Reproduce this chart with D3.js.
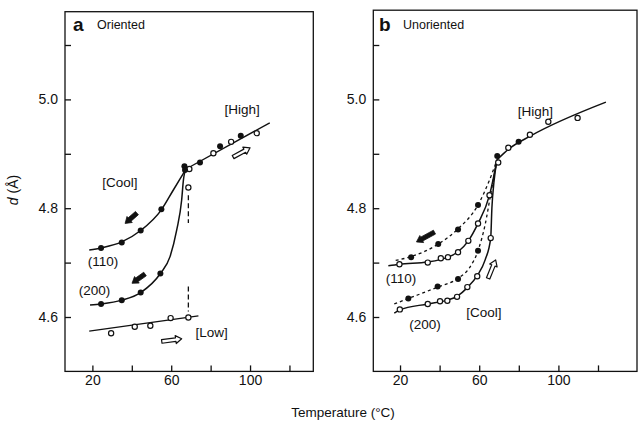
<!DOCTYPE html>
<html>
<head>
<meta charset="utf-8">
<script src="https://cdn.jsdelivr.net/npm/d3@7"></script>
<style>
  html, body { margin: 0; padding: 0; background: #fff; }
  svg { display: block; }
  text { font-family: "Liberation Sans", Arial, sans-serif; fill: #111; }
</style>
</head>
<body>
<svg id="chart" width="638" height="421"></svg>
<script>
// Axis ticks
const xTicks = [20, 40, 60, 80, 100, 120];
const xTickLabels = [20, 60, 100];
const yTicks = [4.6, 4.7, 4.8, 4.9, 5.0, 5.1];
const yTickLabels = [4.6, 4.8, 5.0];

// Panel a: oriented sample  [temperature °C, d spacing Å]
const aHighFilled = [[66.7, 4.877], [67.0, 4.870], [74.6, 4.884], [84.8, 4.914], [95.3, 4.933]];
const aHighOpen = [[69.2, 4.872], [81.4, 4.901], [90.4, 4.922], [103.4, 4.938]];
const aHighLine = [[68.0, 4.873], [110.0, 4.957]];
const a110Filled = [[24.4, 4.727], [34.9, 4.737], [44.5, 4.759], [55.0, 4.798]];
const a110Curve = [[18.4, 4.723], [24.4, 4.727], [34.9, 4.738], [44.5, 4.759], [55.0, 4.797], [61.0, 4.833], [67.5, 4.872]];
const a200Filled = [[24.4, 4.624], [34.9, 4.631], [44.5, 4.645], [54.5, 4.680]];
const a200Curve = [[18.8, 4.622], [24.4, 4.624], [34.9, 4.631], [44.5, 4.645], [54.5, 4.680], [59.4, 4.711], [62.8, 4.760], [65.3, 4.815], [66.2, 4.852], [67.5, 4.872]];
const aLowOpen = [[29.5, 4.570], [41.5, 4.582], [49.4, 4.584], [59.7, 4.598], [68.7, 4.599]];
const aLowLine = [[18.4, 4.574], [73.8, 4.602]];
const aMidOpen = [[68.7, 4.838]];
const aDrops = [[68.7, 4.824, 4.773], [68.7, 4.656, 4.610]];

// Panel b: unoriented sample
const bHighFilled = [[69.1, 4.896], [79.9, 4.922]];
const bHighOpen = [[69.6, 4.884], [74.7, 4.911], [85.6, 4.935], [94.9, 4.959], [109.7, 4.966]];
const bHighLine = [[69.0, 4.889], [75.0, 4.909], [86.0, 4.933], [124.0, 4.995]];
const b110Open = [[19.7, 4.697], [34.0, 4.700], [40.6, 4.708], [44.2, 4.710], [49.3, 4.719], [54.5, 4.740], [59.4, 4.772], [65.2, 4.824]];
const b110Solid = [[14.1, 4.694], [19.7, 4.697], [34.0, 4.701], [44.2, 4.710], [49.3, 4.720], [54.5, 4.740], [59.4, 4.772], [65.2, 4.824], [69.0, 4.889]];
const b110Filled = [[25.6, 4.710], [39.3, 4.734], [49.3, 4.761], [59.4, 4.806]];
const b110Dashed = [[17.8, 4.704], [25.6, 4.711], [39.3, 4.734], [49.3, 4.762], [59.4, 4.806], [65.0, 4.850], [69.0, 4.889]];
const b200Open = [[19.9, 4.614], [34.0, 4.624], [40.2, 4.629], [43.9, 4.630], [48.8, 4.637], [54.0, 4.655], [59.0, 4.675], [65.8, 4.745]];
const b200Solid = [[17.1, 4.607], [19.9, 4.613], [34.0, 4.624], [43.9, 4.631], [48.8, 4.638], [54.0, 4.654], [59.0, 4.676], [63.0, 4.705], [65.8, 4.745], [66.4, 4.800], [67.5, 4.850], [69.0, 4.889]];
const b200Filled = [[24.2, 4.634], [39.0, 4.656], [49.3, 4.670], [59.4, 4.722]];
const b200Dashed = [[17.1, 4.624], [24.2, 4.634], [39.0, 4.655], [49.3, 4.671], [55.0, 4.690], [59.4, 4.722], [63.0, 4.770], [66.0, 4.830], [69.0, 4.889]];

// Direction arrows [t0, v0, t1, v1]
const aArrowsFilled = [[42.6, 4.791, 36.6, 4.772], [46.7, 4.679, 40.1, 4.662]];
const aArrowsOpen = [[91.4, 4.894, 100.0, 4.911], [55.2, 4.555, 65.3, 4.560]];
const bArrowsFilled = [[37.4, 4.756, 28.3, 4.738]];
const bArrowsOpen = [[64.5, 4.671, 68.3, 4.705]];

// Annotation labels [text, t, v]
const aLabels = [["[High]", 96, 4.981], ["[Cool]", 34.0, 4.848], ["(110)", 25.4, 4.703], ["(200)", 21.1, 4.650], ["[Low]", 80.5, 4.572]];
const bLabels = [["[High]", 88.4, 4.979], ["(110)", 20.5, 4.672], ["(200)", 32.6, 4.587], ["[Cool]", 62.4, 4.609]];

const svg = d3.select("#chart");

function panel(opts) {
  const x = d3.scaleLinear().domain(opts.xDomain).range(opts.xRange);
  const y = d3.scaleLinear().domain([4.5, 4.6]).range([opts.yBottom, opts.yBottom - 54.4]);
  const g = svg.append("g");
  const [x0, x1] = opts.xRange;
  const yTop = opts.yTop;

  // frame
  g.append("rect")
    .attr("x", x0).attr("y", yTop)
    .attr("width", x1 - x0).attr("height", opts.yBottom - yTop)
    .attr("fill", "none").attr("stroke", "#111").attr("stroke-width", 1.3);

  // bottom axis, ticks pointing inward
  const xa = g.append("g").attr("transform", `translate(0,${opts.yBottom})`)
    .call(d3.axisBottom(x).tickValues(xTicks).tickSize(-6).tickPadding(4)
      .tickFormat(d => xTickLabels.includes(d) ? d : ""));
  xa.select(".domain").remove();
  xa.selectAll("line").attr("stroke", "#111").attr("stroke-width", 1.3);
  xa.selectAll("text").attr("font-size", 14).attr("font-family", "Liberation Sans, Arial, sans-serif").attr("fill", "#111");

  // left axis, ticks pointing inward
  const ya = g.append("g").attr("transform", `translate(${x0},0)`)
    .call(d3.axisLeft(y).tickValues(yTicks).tickSize(-6).tickPadding(7)
      .tickFormat(d => yTickLabels.some(v => Math.abs(v - d) < 1e-9) ? d3.format(".1f")(d) : ""));
  ya.select(".domain").remove();
  ya.selectAll("line").attr("stroke", "#111").attr("stroke-width", 1.3);
  ya.selectAll("text").attr("font-size", 14).attr("font-family", "Liberation Sans, Arial, sans-serif").attr("fill", "#111");

  // panel letter and title
  g.append("text").attr("x", opts.letterX).attr("y", 31)
    .attr("font-size", 19).attr("font-weight", "bold").text(opts.letter);
  g.append("text").attr("x", opts.letterX + 24).attr("y", 29)
    .attr("font-size", 12.5).text(opts.title);

  const line = d3.line().x(d => x(d[0])).y(d => y(d[1])).curve(d3.curveMonotoneX);
  const straight = d3.line().x(d => x(d[0])).y(d => y(d[1]));

  opts.solid.forEach(s => g.append("path").attr("d", line(s))
    .attr("fill", "none").attr("stroke", "#111").attr("stroke-width", 1.5));
  (opts.straight || []).forEach(s => g.append("path").attr("d", straight(s))
    .attr("fill", "none").attr("stroke", "#111").attr("stroke-width", 1.4));
  (opts.dashed || []).forEach(s => g.append("path").attr("d", line(s))
    .attr("fill", "none").attr("stroke", "#111").attr("stroke-width", 1.3)
    .attr("stroke-dasharray", "3,3"));
  (opts.drops || []).forEach(d => g.append("line")
    .attr("x1", x(d[0])).attr("x2", x(d[0])).attr("y1", y(d[1])).attr("y2", y(d[2]))
    .attr("stroke", "#111").attr("stroke-width", 1.3).attr("stroke-dasharray", "5,3"));

  opts.open.forEach(s => g.selectAll(null).data(s).join("circle")
    .attr("cx", d => x(d[0])).attr("cy", d => y(d[1])).attr("r", 2.6)
    .attr("fill", "#fff").attr("stroke", "#111").attr("stroke-width", 1.2));
  opts.filled.forEach(s => g.selectAll(null).data(s).join("circle")
    .attr("cx", d => x(d[0])).attr("cy", d => y(d[1])).attr("r", 3)
    .attr("fill", "#111"));

  // block arrows
  function arrow(a, filled) {
    const p0 = [x(a[0]), y(a[1])], p1 = [x(a[2]), y(a[3])];
    const dx = p1[0] - p0[0], dy = p1[1] - p0[1];
    const L = Math.hypot(dx, dy), ux = dx / L, uy = dy / L, nx = -uy, ny = ux;
    const hl = 6, sw = filled ? 2.2 : 1.8, hw = 4;
    const b = [p1[0] - ux * hl, p1[1] - uy * hl];
    const pts = [
      [p0[0] + nx * sw, p0[1] + ny * sw], [b[0] + nx * sw, b[1] + ny * sw],
      [b[0] + nx * hw, b[1] + ny * hw], p1,
      [b[0] - nx * hw, b[1] - ny * hw], [b[0] - nx * sw, b[1] - ny * sw],
      [p0[0] - nx * sw, p0[1] - ny * sw]
    ];
    g.append("path").attr("d", "M" + pts.map(p => p.join(",")).join("L") + "Z")
      .attr("fill", filled ? "#111" : "#fff").attr("stroke", "#111")
      .attr("stroke-width", filled ? 0.8 : 1.2).attr("stroke-linejoin", "round");
  }
  (opts.arrowsFilled || []).forEach(a => arrow(a, true));
  (opts.arrowsOpen || []).forEach(a => arrow(a, false));

  opts.labels.forEach(l => g.append("text")
    .attr("x", x(l[1])).attr("y", y(l[2])).attr("dy", "0.35em")
    .attr("text-anchor", "middle").attr("font-size", 13.5).text(l[0]));
}

panel({
  xDomain: [6.1, 132.1], xRange: [65, 313.3], yBottom: 371.4, yTop: 11.7,
  letter: "a", letterX: 73, title: "Oriented",
  solid: [a110Curve, a200Curve], straight: [aHighLine, aLowLine],
  drops: aDrops,
  open: [aHighOpen, aLowOpen, aMidOpen], filled: [aHighFilled, a110Filled, a200Filled],
  arrowsFilled: aArrowsFilled, arrowsOpen: aArrowsOpen, labels: aLabels
});

panel({
  xDomain: [6.5, 139.7], xRange: [373.3, 637], yBottom: 371.4, yTop: 10.2,
  letter: "b", letterX: 379, title: "Unoriented",
  solid: [b110Solid, b200Solid, bHighLine], dashed: [b110Dashed, b200Dashed],
  open: [bHighOpen, b110Open, b200Open], filled: [bHighFilled, b110Filled, b200Filled],
  arrowsFilled: bArrowsFilled, arrowsOpen: bArrowsOpen, labels: bLabels
});

// axis titles
svg.append("text").attr("transform", "translate(18,190) rotate(-90)")
  .attr("text-anchor", "middle").attr("font-size", 14)
  .html('<tspan font-style="italic">d</tspan> (Å)');
svg.append("text").attr("x", 343).attr("y", 417)
  .attr("text-anchor", "middle").attr("font-size", 13.5).text("Temperature (°C)");
</script>
</body>
</html>
